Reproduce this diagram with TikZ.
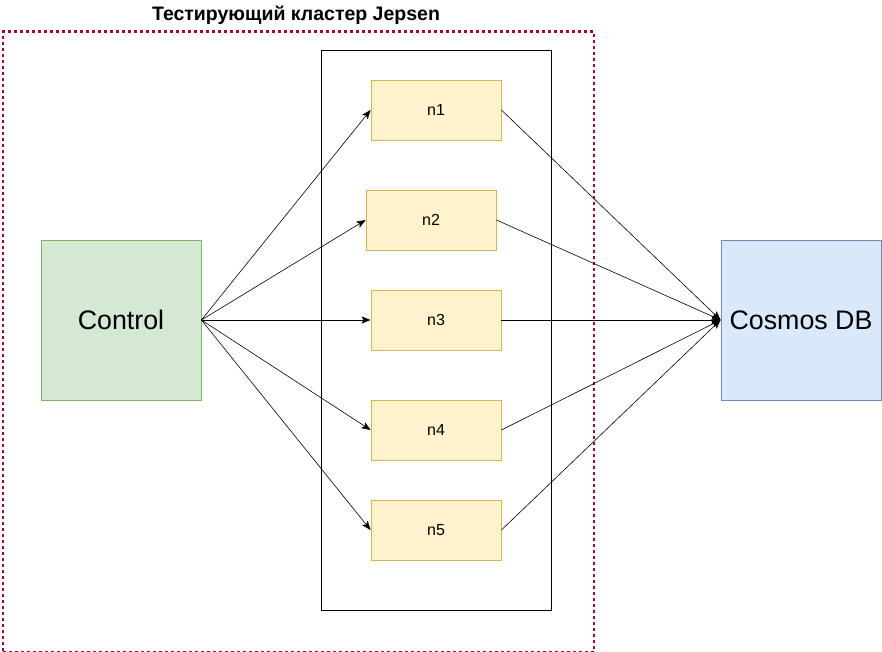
\documentclass[tikz,border=0pt]{standalone}
\usepackage{fontspec}
\setmainfont{Liberation Sans}
\usetikzlibrary{arrows.meta}
\definecolor{clusterred}{HTML}{A50040}
\definecolor{ctrlfill}{HTML}{D5E8D4}
\definecolor{ctrldraw}{HTML}{82B366}
\definecolor{dbfill}{HTML}{DAE8FC}
\definecolor{dbdraw}{HTML}{6C8EBF}
\definecolor{nfill}{HTML}{FFF2CC}
\definecolor{ndraw}{HTML}{D6B656}
\tikzset{
  bigbox/.style={draw, line width=0.8pt, minimum width=160pt, minimum height=160pt, inner sep=0pt, font=\fontsize{26.8}{30}\selectfont},
  nodebox/.style={draw=ndraw, fill=nfill, line width=0.8pt, minimum width=130pt, minimum height=60pt, inner sep=0pt, font=\fontsize{16}{18}\selectfont},
  conn/.style={line width=0.6pt, -{Stealth[length=9pt,width=7pt,inset=2pt]}},
}
\begin{document}
\begin{tikzpicture}[x=1pt,y=-1pt]
\useasboundingbox (0,0) rectangle (882,652);
\node[draw=clusterred, line width=2.5pt, dash pattern=on 3pt off 3pt, minimum width=591pt, minimum height=620pt, inner sep=0pt, anchor=north west] (cluster) at (1.5,30.5) {};
\node[font=\bfseries\fontsize{19.5}{22}\selectfont] (title) at (296,15) {Тестирующий кластер Jepsen};
\node[draw, line width=0.8pt, minimum width=230pt, minimum height=560pt, inner sep=0pt] (inner) at (436,330) {};
\node[bigbox, draw=ctrldraw, fill=ctrlfill] (ctrl) at (121,320) {Control};
\node[bigbox, draw=dbdraw, fill=dbfill] (db) at (801,320) {Cosmos DB};
\node[nodebox] (n1) at (436,110) {n1};
\node[nodebox] (n2) at (431,220) {n2};
\node[nodebox] (n3) at (436,320) {n3};
\node[nodebox] (n4) at (436,430) {n4};
\node[nodebox] (n5) at (436,530) {n5};
\foreach \n in {n1,n2,n3,n4,n5} {
  \draw[conn] (ctrl.east) -- (\n.west);
  \draw[conn] (\n.east) -- (db.west);
}
\end{tikzpicture}
\end{document}
